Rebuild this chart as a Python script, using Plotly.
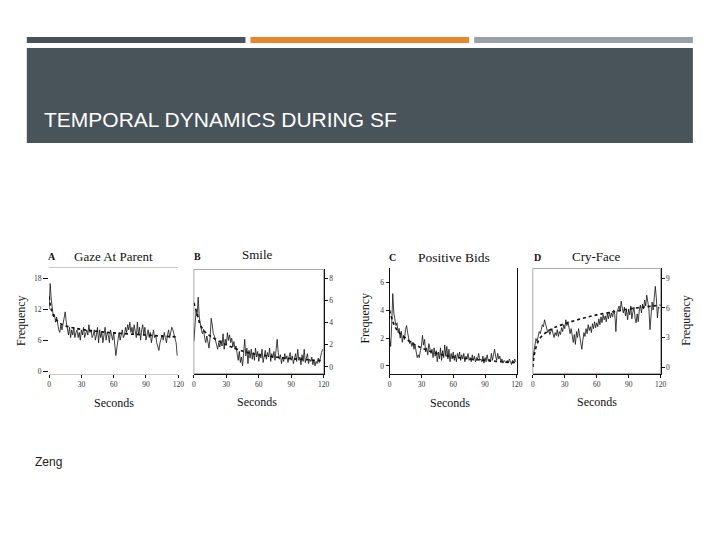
import plotly.graph_objects as go

seconds = list(range(120))

gaze = [12, 17, 14, 12, 10.5, 11, 9.5, 10.5, 9, 8, 7.5,
        9, 8, 9.5, 10, 11.5, 9.5, 8, 7, 8.5, 6.5,
        8, 7, 8.5, 6.5, 7.5, 8, 6.5, 7.5, 6, 8,
        7, 8.5, 6.5, 7.5, 8, 7, 9, 7.5, 8, 6.5,
        7, 8, 6, 7, 8.5, 5.5, 8, 6.5, 7.5, 5.5,
        7, 8.5, 6, 7.5, 7, 5.5, 8, 7, 6, 7.5,
        5, 3, 4.5, 6.5, 7.5, 6, 7, 8, 6.5, 7,
        8.5, 7.5, 9, 8, 9.5, 7.5, 8.5, 7, 9, 8,
        6.5, 9.5, 7, 8.5, 6, 8, 9, 7, 8.5, 6,
        7.5, 8, 6.5, 7.5, 5.5, 7, 8, 6.5, 7, 5.5,
        4.5, 4, 5.5, 6.5, 7, 6, 7.5, 6.5, 5.5, 7,
        8, 6.5, 7.5, 8.5, 8, 7, 6, 5.5, 3]

smile = [2.3, 3.5, 5.0, 4.6, 6.3, 4.5, 3.6, 3.3, 3.0, 3.4, 2.6,
         2.2, 2.8, 2.1, 1.7, 2.6, 4.4, 3.8, 3.0, 2.8, 2.2,
         2.0, 1.6, 2.2, 1.8, 2.4, 1.9, 3.0, 1.6, 2.5, 2.0,
         3.1, 2.4, 2.9, 2.2, 2.6, 1.8, 2.3, 1.6, 1.9, 1.2,
         0.6, 1.4, 0.4, 0.9, 0.1, 1.2, 2.5, 1.0, 1.7, 0.3,
         1.5, 0.8, 1.6, 0.7, 1.3, 0.6, 1.7, 0.9, 1.4, 0.5,
         1.2, 0.8, 1.6, 0.4, 1.1, 1.5, 0.7, 1.3, 0.9, 1.7,
         0.5, 1.2, 0.8, 1.4, 0.6, 1.8, 2.5, 1.3, 0.7, 1.1,
         0.3, 0.9, 0.5, 1.2, 0.7, 1.0, 0.4, 0.9, 1.3, 0.6,
         1.0, 0.3, 0.8, 1.2, 0.5, 1.6, 0.6, 0.9, 0.2, 1.1,
         0.5, 1.6, 0.4, 0.8, 1.2, 0.3, 0.7, 0.5, 0.9, 0.2,
         0.6, 0.1, 0.5, 0.3, 0.8, 0.4, 1.0, 1.3, 1.6]

bids = [2.0, 1.4, 3.0, 5.2, 3.8, 3.3, 2.9, 3.1, 2.4, 2.7, 2.0,
        2.5, 1.7, 2.2, 1.9, 2.6, 2.9, 2.4, 1.9, 1.6, 1.8,
        1.4, 1.7, 1.2, 1.5, 0.9, 0.6, 0.8, 0.6, 1.1, 1.4,
        2.2, 1.5, 1.9, 1.0, 1.3, 0.8, 1.6, 1.1, 0.9, 1.2,
        0.6, 1.3, 0.7, 1.1, 0.3, 1.0, 0.5, 1.3, 0.4, 1.1,
        0.6, 1.5, 0.7, 1.4, 0.5, 1.2, 0.3, 0.9, 0.5, 1.0,
        0.4, 0.8, 0.3, 0.9, 0.6, 1.0, 0.4, 0.8, 0.5, 0.9,
        0.3, 0.7, 0.5, 0.9, 0.4, 0.6, 0.3, 0.8, 0.4, 0.7,
        0.3, 0.6, 0.5, 0.9, 0.4, 0.5, 0.3, 0.7, 0.2, 0.6,
        0.3, 0.8, 0.4, 0.5, 0.3, 0.9, 0.4, 0.8, 1.2, 0.7,
        0.4, 0.9, 0.5, 0.7, 0.3, 0.5, 0.2, 0.4, 0.3, 0.2,
        0.4, 0.2, 0.5, 0.3, 0.1, 0.4, 0.2, 0.5, 0.3]

cry = [0.8, 1.6, 2.3, 2.9, 2.6, 3.2, 3.6, 3.4, 4.0, 4.3, 4.1,
       4.8, 4.4, 3.9, 3.5, 3.8, 3.3, 3.6, 3.9, 3.4, 3.0,
       3.5, 3.2, 3.8, 3.1, 3.6, 3.3, 4.0, 3.6, 4.3, 3.9,
       4.8, 4.2, 4.6, 3.8, 3.4, 3.9, 3.0, 2.5, 3.3, 2.3,
       3.6, 3.0, 3.9, 3.2, 2.4, 1.8, 2.7, 3.5, 3.1, 3.9,
       3.4, 4.3, 3.7, 4.1, 3.5, 4.4, 3.9, 4.6, 4.0, 4.5,
       4.1, 4.9, 4.3, 5.1, 4.5, 5.3, 4.8, 5.2, 4.6, 5.4,
       4.9, 5.6, 5.0, 5.5, 5.1, 5.8, 5.3, 3.6, 5.6, 5.9,
       6.2, 5.7, 6.7, 6.0, 5.5, 6.1, 5.2, 5.8, 4.8, 5.9,
       5.3, 6.2, 4.9, 5.6, 6.1, 5.0, 4.5, 5.4, 4.6, 5.8,
       6.3, 5.5, 6.4, 5.9, 6.8, 6.2, 7.3, 6.6, 5.9, 3.8,
       5.4, 6.6, 5.8, 7.2, 8.2, 7.0, 5.0, 6.1, 6.0]

fit_x_a = [0, 2, 5, 10, 20, 30, 45, 60, 75, 90, 105, 120]
fit_a = [14.5, 12, 10.5, 9.3, 8.5, 8.1, 7.7, 7.4, 7.2, 7.0, 6.8, 6.6]
fit_x_b = [0, 3, 6, 10, 15, 20, 30, 40, 50, 60, 75, 90, 105, 120]
fit_b = [5.8, 4.8, 3.8, 3.2, 2.8, 2.5, 2.0, 1.6, 1.3, 1.1, 0.9, 0.75, 0.65, 0.55]
fit_x_c = [0, 3, 6, 10, 15, 20, 30, 40, 50, 60, 75, 90, 105, 120]
fit_c = [4.0, 3.2, 2.7, 2.3, 2.0, 1.7, 1.3, 1.0, 0.8, 0.65, 0.5, 0.4, 0.3, 0.25]
fit_x_d = [0, 1, 3, 6, 10, 15, 20, 30, 45, 60, 75, 90, 105, 120]
fit_d = [0, 1.0, 2.0, 2.8, 3.3, 3.7, 4.0, 4.4, 4.9, 5.3, 5.6, 5.9, 6.1, 6.3]

x_ticks = [0, 30, 60, 90, 120]
y_ticks_a = [0, 6, 12, 18]
y_ticks_b = [0, 2, 4, 6, 8]
y_ticks_c = [0, 2, 4, 6]
y_ticks_d = [0, 3, 6, 9]

titles = ["Gaze At Parent", "Smile", "Positive Bids", "Cry-Face"]
letters = ["A", "B", "C", "D"]

# page body has an 8px margin: figure is placed at (8, 8)
OFF = 8
W, H = 720 - 2 * OFF, 540 - 2 * OFF
def px(x):
    xc = 26 + (x - 27) / 0.99
    return (xc - OFF) / W
def py(y):
    yc = 37 + (y - 37) / 0.995
    return 1 - (yc - OFF) / H

SERIF = "Liberation Serif"

fig = go.Figure()

panels = [
    dict(series=gaze, fx=fit_x_a, fy=fit_a, yt=y_ticks_a, x0=48.3, x1=177.7,
         ytop=268, ybot=373.3, yrange=[-0.5, 20.0], side="left"),
    dict(series=smile, fx=fit_x_b, fy=fit_b, yt=y_ticks_b, x0=193.3, x1=323.3,
         ytop=269.3, ybot=373.3, yrange=[-0.6, 8.81], side="right"),
    dict(series=bids, fx=fit_x_c, fy=fit_c, yt=y_ticks_c, x0=389.3, x1=516.7,
         ytop=268, ybot=373.3, yrange=[-0.55, 7.03], side="left"),
    dict(series=cry, fx=fit_x_d, fy=fit_d, yt=y_ticks_d, x0=532.7, x1=660.7,
         ytop=268.3, ybot=373.3, yrange=[-0.67, 10.02], side="right"),
]

tickfont = dict(family=SERIF, size=7.5, color="#333")
for i, p in enumerate(panels):
    n = "" if i == 0 else str(i + 1)
    xa, ya = "x" + n, "y" + n
    fig.add_trace(go.Scatter(x=seconds, y=p["series"], mode="lines",
                             line=dict(color="#111", width=0.8),
                             xaxis=xa, yaxis=ya, showlegend=False))
    fig.add_trace(go.Scatter(x=p["fx"], y=p["fy"], mode="lines",
                             line=dict(color="#111", width=1.7, dash="dot", shape="spline"),
                             xaxis=xa, yaxis=ya, showlegend=False))
    xdom = [px(p["x0"]), px(p["x1"])]
    ydom = [py(p["ybot"]), py(p["ytop"])]
    xcfg = dict(domain=xdom, range=[0, 120], tickvals=x_ticks, ticks="outside",
                ticklen=3, tickcolor="#111", tickfont=tickfont, showgrid=False,
                zeroline=False, showline=True, linecolor="#111", linewidth=1,
                anchor=ya)
    ycfg = dict(domain=ydom, range=p["yrange"], tickvals=p["yt"], ticks="outside",
                ticklen=3, tickcolor="#111", tickfont=tickfont, showgrid=False,
                zeroline=False, side=p["side"], anchor=xa, showline=True,
                linecolor="#111", linewidth=1)
    if i == 0:
        xcfg.update(linecolor="#c8c8c8", mirror=True)
        ycfg.update(showline=False, ticklen=5)
    if i == 2:
        ycfg.update(mirror=True)
    if i in (1, 3):
        fig.add_shape(type="rect", xref="paper", yref="paper",
                      x0=xdom[0], x1=xdom[1], y0=ydom[0], y1=ydom[1],
                      line=dict(color="#a8a8a8", width=1), layer="below")
    fig.layout["xaxis" + n] = xcfg
    fig.layout["yaxis" + n] = ycfg

# slide decoration
fig.add_shape(type="rect", xref="paper", yref="paper", x0=px(26), x1=px(245),
              y0=py(43), y1=py(37), fillcolor="#47525a", line_width=0, layer="below")
fig.add_shape(type="rect", xref="paper", yref="paper", x0=px(250), x1=px(469),
              y0=py(43), y1=py(37), fillcolor="#e8862e", line_width=0, layer="below")
fig.add_shape(type="rect", xref="paper", yref="paper", x0=px(474), x1=px(693),
              y0=py(43), y1=py(37), fillcolor="#9aa1a8", line_width=0, layer="below")
fig.add_shape(type="rect", xref="paper", yref="paper", x0=px(26), x1=px(693),
              y0=py(143), y1=py(48), fillcolor="#48535a", line_width=0, layer="below")

ann = []
ann.append(dict(text="TEMPORAL DYNAMICS DURING SF", x=px(41), y=py(120), xanchor="left",
                yanchor="middle", font=dict(family="Liberation Sans", size=21, color="white")))
ann.append(dict(text="Zeng", x=px(32), y=py(462), xanchor="left", yanchor="middle",
                font=dict(family="Liberation Sans", size=12, color="#222")))

letter_pos = [(51.7, 256), (197, 256.7), (392, 257), (537, 257)]
title_pos = [(113, 256), (257, 254), (454, 257), (596, 256)]
title_sizes = [13, 13, 13.5, 13]
for (lx, ly), l in zip(letter_pos, letters):
    ann.append(dict(text="<b>%s</b>" % l, x=px(lx), y=py(ly), xanchor="center", yanchor="middle",
                    font=dict(family=SERIF, size=10, color="#111")))
for (tx, ty), t, s in zip(title_pos, titles, title_sizes):
    ann.append(dict(text=t, x=px(tx), y=py(ty), xanchor="center", yanchor="middle",
                    font=dict(family=SERIF, size=s, color="#111")))
for sx, sy in [(113, 403), (257, 402), (450, 403), (597, 402)]:
    ann.append(dict(text="Seconds", x=px(sx), y=py(sy), xanchor="center", yanchor="middle",
                    font=dict(family=SERIF, size=12, color="#111")))
for fx, fy in [(20, 320), (365, 318), (686.7, 320)]:
    ann.append(dict(text="Frequency", x=px(fx), y=py(fy), xanchor="center", yanchor="middle",
                    textangle=-90, font=dict(family=SERIF, size=12, color="#111")))
for a in ann:
    a.update(xref="paper", yref="paper", showarrow=False)

fig.update_layout(width=W, height=H, autosize=False,
                  margin=dict(l=0, r=0, t=0, b=0),
                  paper_bgcolor="white", plot_bgcolor="rgba(0,0,0,0)",
                  annotations=ann)

fig.write_html("out.html")
